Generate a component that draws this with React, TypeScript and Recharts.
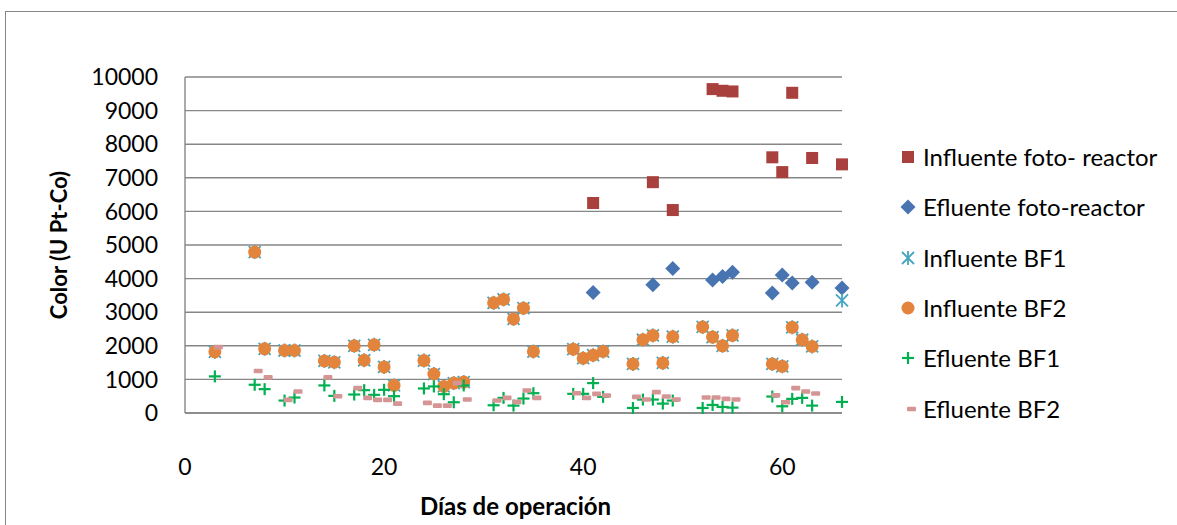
import { ScatterChart, Scatter, XAxis, YAxis, CartesianGrid, Label } from 'recharts';

// días de operación
const diasFoto = [41, 47, 49, 53, 54, 55, 59, 60, 61, 63, 66];
const influenteFotoReactor = [6250, 6870, 6040, 9640, 9590, 9570, 7610, 7170, 9530, 7590, 7400];
const efluenteFotoReactor = [3590, 3820, 4300, 3960, 4060, 4190, 3570, 4110, 3870, 3890, 3720];

const diasBF2 = [3, 7, 8, 10, 11, 14, 15, 17, 18, 19, 20, 21, 24, 25, 26, 27, 28, 31, 32, 33, 34, 35, 39, 40, 41, 42, 45, 46, 47, 48, 49, 52, 53, 54, 55, 59, 60, 61, 62, 63];
const influenteBF2 = [1820, 4790, 1910, 1860, 1860, 1550, 1510, 2000, 1570, 2030, 1370, 820, 1560, 1160, 790, 890, 920, 3280, 3380, 2800, 3120, 1830, 1900, 1630, 1720, 1830, 1460, 2180, 2310, 1490, 2270, 2560, 2260, 2000, 2310, 1460, 1390, 2550, 2180, 1980];
const efluenteBF2 = [1960, 1250, 1060, 390, 640, 1060, 500, 740, 450, 390, 390, 280, 300, 220, 220, 890, 400, 370, 450, 330, 670, 450, 590, 450, 570, 520, 480, 400, 620, 490, 400, 460, 460, 420, 400, 530, 320, 740, 640, 580];

const diasBF1 = [3, 7, 8, 10, 11, 14, 15, 17, 18, 19, 20, 21, 24, 25, 26, 27, 28, 31, 32, 33, 34, 35, 39, 40, 41, 42, 45, 46, 47, 48, 49, 52, 53, 54, 55, 59, 60, 61, 62, 63, 66];
const influenteBF1 = [1820, 4790, 1910, 1860, 1860, 1550, 1510, 2000, 1570, 2030, 1370, 820, 1560, 1160, 790, 890, 920, 3280, 3380, 2800, 3120, 1830, 1900, 1630, 1720, 1830, 1460, 2180, 2310, 1490, 2270, 2560, 2260, 2000, 2310, 1460, 1390, 2550, 2180, 1980, 3350];
const efluenteBF1 = [1090, 840, 710, 370, 460, 820, 510, 550, 680, 540, 690, 500, 730, 790, 560, 320, 820, 230, 450, 220, 430, 590, 570, 570, 890, 480, 150, 400, 400, 280, 370, 150, 240, 180, 160, 490, 200, 420, 450, 220, 330];

const xTicks = [0, 20, 40, 60];
const yTicks = [0, 1000, 2000, 3000, 4000, 5000, 6000, 7000, 8000, 9000, 10000];

const toPoints = (xs: number[], ys: number[]) => xs.map((x, i) => ({ x, y: ys[i] }));

const RED = '#A8403D';
const BLUE = '#4874B1';
const TEAL = '#45A5BF';
const ORANGE = '#E3843C';
const GREEN = '#00B050';
const PINK = '#D69595';
const GRID = '#878787';
const FONT = 'Lato, "Noto Sans", sans-serif';

const Square = ({ cx, cy }: any) => <rect x={cx - 6} y={cy - 6} width={12} height={12} fill={RED} />;
const Diamond = ({ cx, cy }: any) => (
    <path d={`M${cx},${cy - 7.5}L${cx + 7.5},${cy}L${cx},${cy + 7.5}L${cx - 7.5},${cy}Z`} fill={BLUE} />
);
const Star = ({ cx, cy }: any) => (
    <g stroke={TEAL} strokeWidth={1.8}>
        <line x1={cx - 6} y1={cy - 6} x2={cx + 6} y2={cy + 6} />
        <line x1={cx - 6} y1={cy + 6} x2={cx + 6} y2={cy - 6} />
        <line x1={cx} y1={cy - 7} x2={cx} y2={cy + 7} />
    </g>
);
const Dot = ({ cx, cy }: any) => <circle cx={cx} cy={cy} r={6.5} fill={ORANGE} />;
const Cross = ({ cx, cy }: any) => (
    <g stroke={GREEN} strokeWidth={2.2}>
        <line x1={cx - 6} y1={cy} x2={cx + 6} y2={cy} />
        <line x1={cx} y1={cy - 6} x2={cx} y2={cy + 6} />
    </g>
);
// Excel draws the dash marker a few px right of the point
const Dash = ({ cx, cy }: any) => <rect x={cx - 1} y={cy - 2.3} width={9} height={4.6} rx={1} fill={PINK} />;

const legendItems = [
    { label: 'Influente foto- reactor', Shape: Square },
    { label: 'Efluente foto-reactor', Shape: Diamond },
    { label: 'Influente BF1', Shape: Star },
    { label: 'Influente BF2', Shape: Dot },
    { label: 'Efluente BF1', Shape: Cross },
    { label: 'Efluente BF2', Shape: Dash },
];

export default function App() {
    return (
        <div style={{ position: 'absolute', left: 0, top: 0, width: 1177, height: 525, overflow: 'hidden', background: '#fff', fontFamily: FONT }}>
            <div style={{ position: 'absolute', left: 5, top: 11, width: 1200, height: 600, border: '1px solid #888' }} />
            <ScatterChart width={1177} height={525} margin={{ top: 77, right: 335, bottom: 0, left: 0 }}>
                <CartesianGrid vertical={false} stroke={GRID} strokeWidth={1.4} />
                <XAxis
                    type="number"
                    dataKey="x"
                    domain={[0, 66]}
                    ticks={xTicks}
                    interval={0}
                    height={112}
                    tickSize={0}
                    tickMargin={46}
                    axisLine={{ stroke: GRID, strokeWidth: 1.4 }}
                    tick={{ fill: '#000', fontSize: 23, fontFamily: FONT }}
                >
                    <Label
                        content={({ viewBox }: any) => (
                            <text
                                x={viewBox.x + viewBox.width / 2 + 2}
                                y={viewBox.y + viewBox.height - 10}
                                textAnchor="middle"
                                fontSize={24}
                                fontWeight="bold"
                                fontFamily={FONT}
                                fill="#000"
                            >
                                Días de operación
                            </text>
                        )}
                    />
                </XAxis>
                <YAxis
                    type="number"
                    dataKey="y"
                    domain={[0, 10000]}
                    ticks={yTicks}
                    interval={0}
                    width={185}
                    tickSize={0}
                    tickMargin={27}
                    axisLine={{ stroke: GRID, strokeWidth: 1.4 }}
                    tick={{ fill: '#000', fontSize: 23, fontFamily: FONT }}
                >
                    <Label
                        content={({ viewBox }: any) => {
                            const x = viewBox.x + 58;
                            const y = viewBox.y + viewBox.height / 2;
                            return (
                                <text
                                    x={x}
                                    y={y}
                                    transform={`rotate(-90, ${x}, ${y})`}
                                    textAnchor="middle"
                                    dominantBaseline="central"
                                    fontSize={22}
                                    fontWeight="bold"
                                    fontFamily={FONT}
                                    fill="#000"
                                >
                                    Color (U Pt-Co)
                                </text>
                            );
                        }}
                    />
                </YAxis>
                <Scatter name="Influente foto- reactor" data={toPoints(diasFoto, influenteFotoReactor)} shape={Square} isAnimationActive={false} />
                <Scatter name="Efluente foto-reactor" data={toPoints(diasFoto, efluenteFotoReactor)} shape={Diamond} isAnimationActive={false} />
                <Scatter name="Influente BF1" data={toPoints(diasBF1, influenteBF1)} shape={Star} isAnimationActive={false} />
                <Scatter name="Influente BF2" data={toPoints(diasBF2, influenteBF2)} shape={Dot} isAnimationActive={false} />
                <Scatter name="Efluente BF1" data={toPoints(diasBF1, efluenteBF1)} shape={Cross} isAnimationActive={false} />
                <Scatter name="Efluente BF2" data={toPoints(diasBF2, efluenteBF2)} shape={Dash} isAnimationActive={false} />
            </ScatterChart>

            {/* legend */}
            <div style={{ position: 'absolute', left: 898, top: 132 }}>
                {legendItems.map(({ label, Shape }) => (
                    <div key={label} style={{ display: 'flex', alignItems: 'center', height: 50.3 }}>
                        <svg width={20} height={20} style={{ flexShrink: 0 }}>
                            <Shape cx={10} cy={10} />
                        </svg>
                        <span style={{ marginLeft: 5, fontSize: 24, color: '#000', lineHeight: '28px', whiteSpace: 'nowrap' }}>{label}</span>
                    </div>
                ))}
            </div>
        </div>
    );
}
